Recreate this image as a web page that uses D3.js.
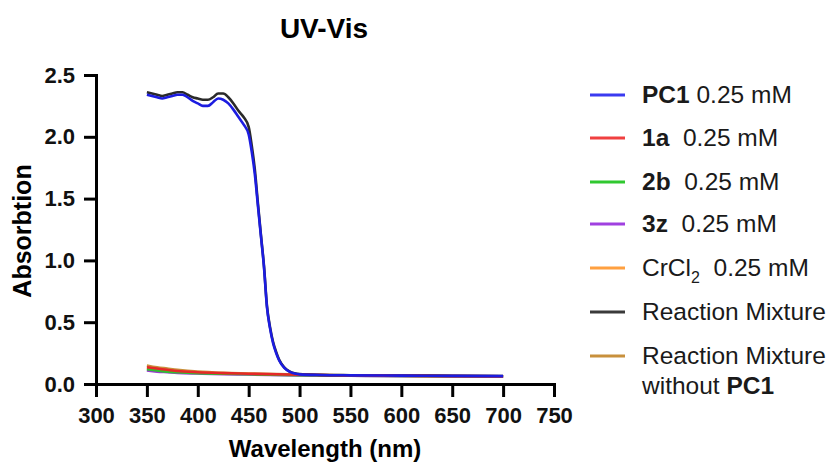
<!DOCTYPE html>
<html>
<head>
<meta charset="utf-8">
<script src="https://cdn.jsdelivr.net/npm/d3@7"></script>
<style>
  body { margin: 0; background: #fff; }
  svg { font-family: "Liberation Sans", Arial, Helvetica, sans-serif; }
  .axis path, .axis line { stroke: #000; stroke-width: 3; }
  .axis text { font-size: 22px; font-weight: bold; fill: #111; }
</style>
</head>
<body>
<div id="chart"></div>
<script>
// wavelength grid for the two PC1-containing samples
const wlHigh = [350,355,360,365,370,375,380,385,390,395,400,405,410,415,420,425,430,435,440,445,450,453,456,459,462,465,468,471,474,477,480,485,490,495,500,520,550,600,650,700];
const absPC1 = [2.34,2.33,2.32,2.31,2.32,2.33,2.34,2.34,2.32,2.29,2.27,2.25,2.25,2.28,2.31,2.30,2.27,2.22,2.16,2.10,2.02,1.88,1.70,1.45,1.20,0.95,0.62,0.45,0.33,0.25,0.19,0.13,0.10,0.085,0.078,0.073,0.070,0.068,0.066,0.064];
const absMix = [2.36,2.35,2.34,2.33,2.34,2.35,2.36,2.36,2.34,2.32,2.31,2.30,2.30,2.32,2.35,2.35,2.32,2.27,2.21,2.16,2.08,1.93,1.74,1.47,1.21,0.96,0.63,0.46,0.34,0.26,0.195,0.135,0.103,0.087,0.080,0.074,0.071,0.069,0.067,0.065];

// wavelength grid for the low absorbing samples
const wlLow = [350,360,370,380,400,425,450,500,550,600,650,700];
const abs1a   = [0.135,0.125,0.115,0.105,0.095,0.088,0.083,0.075,0.070,0.067,0.064,0.062];
const abs2b   = [0.120,0.110,0.100,0.095,0.088,0.083,0.079,0.072,0.068,0.065,0.063,0.061];
const abs3z   = [0.110,0.100,0.095,0.090,0.085,0.080,0.077,0.070,0.067,0.064,0.062,0.060];
const absCr   = [0.125,0.115,0.105,0.100,0.090,0.085,0.080,0.073,0.069,0.066,0.063,0.061];
const absNoPC = [0.150,0.135,0.125,0.115,0.100,0.090,0.085,0.076,0.070,0.067,0.064,0.062];

const xTicks = [300,350,400,450,500,550,600,650,700,750];
const yTicks = [0,0.5,1.0,1.5,2.0,2.5];

const width = 831, height = 466;

const svg = d3.select("#chart")
    .append("svg")
    .attr("width", width)
    .attr("height", height);

const x = d3.scaleLinear().domain([300, 750]).range([96, 554]);
const y = d3.scaleLinear().domain([0, 2.5]).range([384, 75]);

// title
svg.append("text")
    .attr("x", 324)
    .attr("y", 38)
    .attr("text-anchor", "middle")
    .attr("font-size", "28px")
    .attr("font-weight", "bold")
    .text("UV-Vis");

// axes
svg.append("g")
    .attr("class", "axis")
    .attr("transform", "translate(0,384)")
    .call(d3.axisBottom(x).tickValues(xTicks).tickSize(13).tickSizeOuter(0).tickPadding(10).tickFormat(d3.format("d")));

svg.append("g")
    .attr("class", "axis")
    .attr("transform", "translate(96,0)")
    .call(d3.axisLeft(y).tickValues(yTicks).tickSize(12).tickSizeOuter(0).tickPadding(9).tickFormat(d3.format(".1f")));

svg.selectAll(".axis .domain").attr("stroke-linecap", "square");

// axis labels
svg.append("text")
    .attr("x", 325)
    .attr("y", 457)
    .attr("text-anchor", "middle")
    .attr("font-size", "24px")
    .attr("font-weight", "bold")
    .text("Wavelength (nm)");

svg.append("text")
    .attr("transform", "translate(31,231) rotate(-90)")
    .attr("text-anchor", "middle")
    .attr("font-size", "25px")
    .attr("font-weight", "bold")
    .text("Absorbtion");

// series, drawn bottom to top
const series = [
    {wl: wlLow,  abs: absNoPC, color: "#c8903c"},
    {wl: wlLow,  abs: absCr,   color: "#ffa040"},
    {wl: wlLow,  abs: abs3z,   color: "#9a3ad0"},
    {wl: wlLow,  abs: abs2b,   color: "#30c030"},
    {wl: wlHigh, abs: absMix,  color: "#2a2a2a"},
    {wl: wlLow,  abs: abs1a,   color: "#e62828"},
    {wl: wlHigh, abs: absPC1,  color: "#1c1ce0"}
];

const line = d3.line()
    .x(d => x(d[0]))
    .y(d => y(d[1]))
    .curve(d3.curveMonotoneX);

svg.selectAll(".series")
    .data(series)
    .enter()
    .append("path")
    .attr("class", "series")
    .attr("fill", "none")
    .attr("stroke", d => d.color)
    .attr("stroke-width", 2.6)
    .attr("d", d => line(d.wl.map((w, i) => [w, d.abs[i]])));

// legend
const legendItems = [
    {bold: "PC1", rest: " 0.25 mM", color: "#3a3af0"},
    {bold: "1a", rest: "  0.25 mM", color: "#f04040"},
    {bold: "2b", rest: "  0.25 mM", color: "#30c830"},
    {bold: "3z", rest: "  0.25 mM", color: "#a040e0"},
    {cr: true, color: "#ffa040"},
    {rest: "Reaction Mixture", color: "#3a3a3a"},
    {rest: "Reaction Mixture", line2: true, color: "#c8903c"}
];
const legendY = [95, 138, 182, 224, 268, 312, 356];

const legend = svg.selectAll(".legend")
    .data(legendItems)
    .enter()
    .append("g")
    .attr("class", "legend")
    .attr("transform", (d, i) => `translate(590,${legendY[i]})`);

legend.append("line")
    .attr("x1", 0).attr("x2", 35)
    .attr("stroke", d => d.color)
    .attr("stroke-width", 3);

const lt = legend.append("text")
    .attr("x", 52)
    .attr("y", 8)
    .attr("font-size", "24.5px")
    .attr("fill", "#1a1a1a")
    .style("white-space", "pre");

lt.each(function(d) {
    const t = d3.select(this);
    if (d.cr) {
        t.append("tspan").text("CrCl");
        t.append("tspan").attr("font-size", "16px").attr("dy", 7).text("2");
        t.append("tspan").attr("dy", -7).text("  0.25 mM");
        return;
    }
    if (d.bold) t.append("tspan").attr("font-weight", "bold").text(d.bold);
    t.append("tspan").text(d.rest);
});

legend.filter(d => d.line2)
    .append("text")
    .attr("x", 52)
    .attr("y", 38)
    .attr("font-size", "24.5px")
    .attr("fill", "#1a1a1a")
    .call(t => {
        t.append("tspan").text("without ");
        t.append("tspan").attr("font-weight", "bold").text("PC1");
    });
</script>
</body>
</html>
